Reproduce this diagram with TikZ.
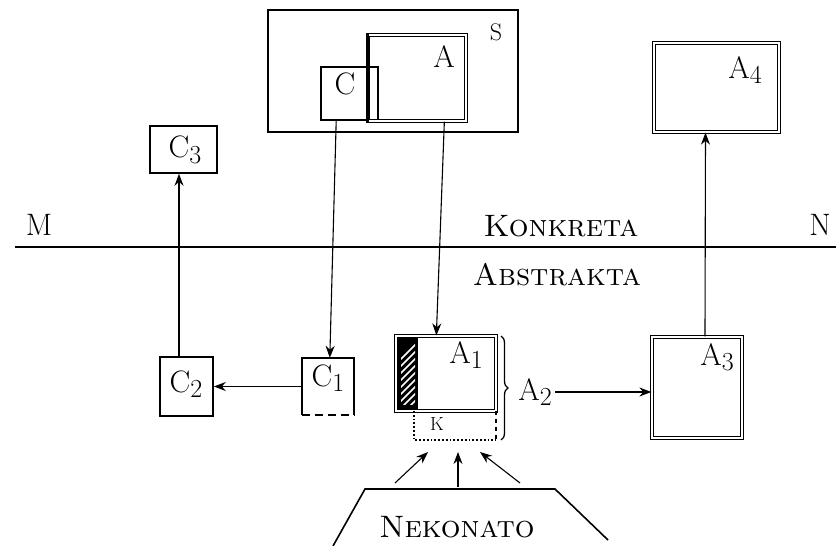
\documentclass[tikz,border=0pt]{standalone}
\usepackage{fontspec}
\usetikzlibrary{arrows.meta,decorations.pathreplacing,calc}
\newcommand\lsub[1]{\raisebox{-0.4ex}{\fontsize{26}{28}\selectfont #1}}
\begin{document}
\begin{tikzpicture}[x=1pt,y=-1pt,
  font=\fontsize{31}{34}\selectfont,
  box/.style={draw,line width=1.6pt,inner sep=0pt},
  dbox/.style={draw,line width=1.3pt,double,double distance=1.8pt,inner sep=0pt},
  conn/.style={line width=1.1pt,-{Stealth[length=12pt,width=9pt]}},
  lab/.style={inner sep=0pt,anchor=center}]
\useasboundingbox[fill=white] (0,0) rectangle (836,546);

% main line
\coordinate (Mend) at (15,247);
\coordinate (Nend) at (836,247);
\draw[line width=2pt] (Mend) -- (Nend);
\node[lab] (M) at (39,225) {M};
\node[lab] (N) at (820,225) {N};
\node[lab] (konk) at (561,226) {\textsc{Konkreta}};
\node[lab] (abst) at (557,275) {\textsc{Abstrakta}};

% concrete region
\node[box,minimum width=250pt,minimum height=122pt] (S) at (393,71) {};
\node[lab] (Slab) at (496,32) {\fontsize{24}{26}\selectfont S};
\node[box,minimum width=57pt,minimum height=53pt] (C) at (349.5,93.5) {};
\node[dbox,minimum width=98pt,minimum height=86pt] (A) at (417,78) {};
\draw[line width=3.5pt] (A.north west) -- (A.south west);
\node[lab] (Alab) at (444,57) {A};
\node[lab] (Clab) at (345,84) {C};

\node[box,minimum width=67pt,minimum height=47pt] (C3) at (183.5,149.5) {};
\node[lab] (C3lab) at (185,150) {C\lsub{3}};

\node[dbox,minimum width=125pt,minimum height=89pt] (A4) at (716.5,87.5) {};
\node[lab] (A4lab) at (745,70) {A\lsub{4}};

% abstract region
\node[box,minimum width=53pt,minimum height=59pt] (C2) at (186.5,386.5) {};
\node[lab] (C2lab) at (186,384) {C\lsub{2}};

\node[inner sep=0pt,minimum width=52pt,minimum height=57pt] (C1) at (328,386.5) {};
\draw[line width=1.6pt] (C1.south west) -- (C1.north west) -- (C1.north east) -- (C1.south east);
\draw[line width=1.6pt,dash pattern=on 8pt off 5pt] (C1.south west) -- (C1.south east);
\node[lab] (C1lab) at (328,378) {C\lsub{1}};

\node[dbox,minimum width=100pt,minimum height=75pt] (A1) at (446,373.5) {};
\fill[black] (397,337) rectangle (418,410);
\begin{scope}
\clip (401,343) rectangle (415,404);
\foreach \t in {0,7,...,98}{
  \draw[white,line width=1.5pt] (400,{360+\t}) -- (418,{342+\t});
}
\end{scope}
\node[lab] (A1lab) at (466,355) {A\lsub{1}};

% K region
\coordinate (Ktl) at (414,411);
\coordinate (Ktr) at (496,411);
\coordinate (Kbl) at (414,440);
\coordinate (Kbr) at (496,440);
\draw[line width=1.8pt,dotted] (Ktl) -- (Kbl) -- (Kbr);
\draw[line width=1.5pt,dash pattern=on 4pt off 4pt] (Ktr) -- (Kbr);
\node[lab] (Klab) at (437,424) {\fontsize{19}{22}\selectfont K};

\coordinate (Btop) at (501,336);
\coordinate (Bbot) at (501,440);
\draw[line width=1.3pt,decorate,decoration={brace,amplitude=7pt}] (Btop) -- (Bbot);
\node[lab] (A2) at (535,392) {A\lsub{2}};

\node[dbox,minimum width=90pt,minimum height=101pt] (A3) at (697,387.5) {};
\node[lab] (A3lab) at (717,357) {A\lsub{3}};

% Nekonato
\coordinate (T1) at (333,546);
\coordinate (T2) at (365,489);
\coordinate (T3) at (555,489);
\coordinate (T4) at (608,540);
\draw[line width=1.6pt] (T1) -- (T2) -- (T3) -- (T4);
\node[lab] (nek) at (457,527) {\textsc{Nekonato}};

% connectors
\draw[conn] ([xshift=16pt]C.south west) -- ([xshift=28pt]C1.north west);
\draw[conn] ([xshift=77pt]A.south west) -- ([xshift=41pt]A1.north west);
\draw[conn] ([xshift=-7.5pt]C2.north) -- ([xshift=-4.5pt]C3.south);
\draw[conn] (C1.west) -- (C2.east);
\draw[conn] (555,392) -- (A3.west |- 0,392);
\draw[conn] ([xshift=8pt]A3.north) -- ([xshift=-11pt]A4.south);
\coordinate (n1) at (395,483);
\coordinate (n2) at (458,487);
\coordinate (n3) at (520,483);
\draw[conn] (n1) -- (428,452);
\draw[conn] (n2) -- (458,452);
\draw[conn] (n3) -- (480,452);
\end{tikzpicture}
\end{document}
